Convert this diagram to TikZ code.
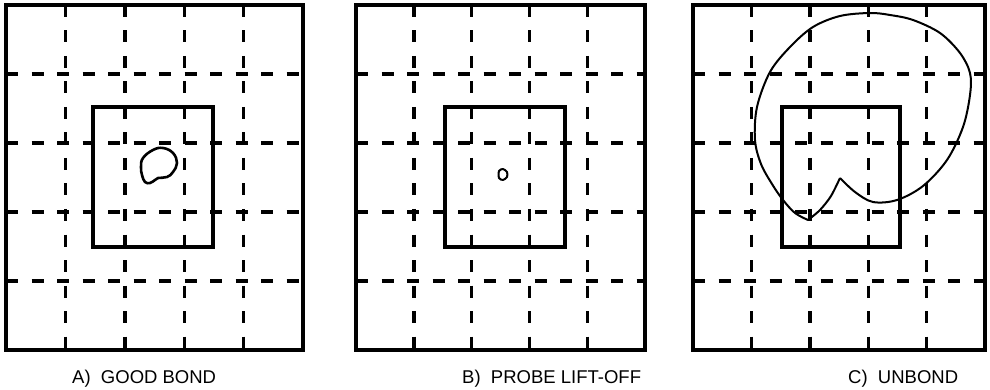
\documentclass[tikz,border=0pt]{standalone}
\usepackage{fontspec}
\setmainfont{Liberation Sans}
\usetikzlibrary{positioning}
\tikzset{frame/.style={draw, line width=3.6pt}, window/.style={draw, line width=3.2pt}, gridline/.style={draw, line width=3.4pt, dash pattern=on 12pt off 13.5pt}, trace/.style={draw, line width=2.6pt, line join=round}, caption/.style={font=\fontsize{18.5}{20}\selectfont, anchor=base west, inner sep=0pt}}

\begin{document}
\begin{tikzpicture}[x=1pt, y=-1pt]
\useasboundingbox (0,0) rectangle (990,390);
% panels: frame left/right, window left/right
\foreach \l/\r/\wl/\wr in {6/303/93/213, 356/645/445/565, 693/985/782/900} {
  \pgfmathsetmacro{\dx}{(\r-\l)/5}
  \foreach \i in {1,...,4} {
    \draw[gridline] ({\l+\i*\dx},5) -- ({\l+\i*\dx},350);
    \draw[gridline] (\l,{5+\i*69}) -- (\r,{5+\i*69});
  }
  \draw[window] (\wl,107) rectangle (\wr,247);
  \draw[frame] (\l,5) rectangle (\r,350);
}
% traces
\draw[trace] plot[smooth cycle, tension=0.7] coordinates {(143,158) (153,150) (163,148) (173,153) (177,163) (173,172) (167,177) (158,178) (155,180) (150,183) (145,182) (142,175) (141,167)};
\draw[trace, line width=2pt] plot[smooth cycle] coordinates {(499,171) (503,169) (507,172) (507,177) (503,180) (499,178)};
\draw[trace, line width=2pt] plot[smooth, tension=0.55] coordinates {(808,220) (795,213) (783,200) (772,184) (761,164) (755,140) (757,107) (770,72) (790,47) (813,27) (840,16) (870,13) (890,15) (913,20) (940,33) (960,53) (970,73) (970,95) (963,127) (947,160) (923,186) (897,200) (873,202) (855,192) (840,178)};
\draw[trace, line width=2pt] plot[smooth] coordinates {(840,178) (831,196) (820,210) (808,220)};
% captions
\node[caption] (capA) at (72,383) {A)\ \ GOOD BOND};
\node[caption] (capB) at (462,383) {B)\ \ PROBE LIFT-OFF};
\node[caption] (capC) at (848,383) {C)\ \ UNBOND};
\end{tikzpicture}
\end{document}
